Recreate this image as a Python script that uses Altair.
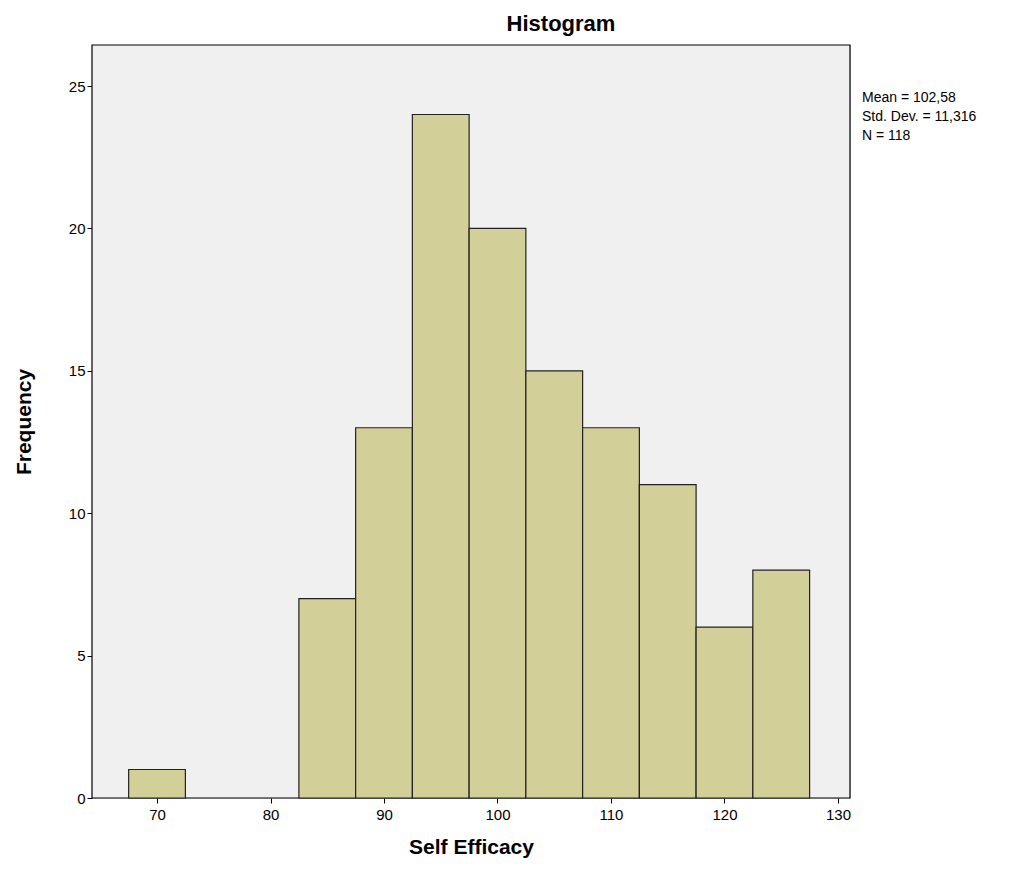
import altair as alt
import pandas as pd

bin_start = [67.5, 82.5, 87.5, 92.5, 97.5, 102.5, 107.5, 112.5, 117.5, 122.5]
bin_end = [72.5, 87.5, 92.5, 97.5, 102.5, 107.5, 112.5, 117.5, 122.5, 127.5]
counts = [1, 7, 13, 24, 20, 15, 13, 11, 6, 8]
stats = ["Mean = 102,58", "Std. Dev. = 11,316", "N = 118"]

df = pd.DataFrame({"x0": bin_start, "x1": bin_end, "n": counts, "z": [0] * len(counts)})
W, H = 758, 753
font = "Liberation Sans"

bg = alt.Chart(pd.DataFrame({"a": [0]})).mark_rect(fill="#f0f0f0", stroke="#000", strokeWidth=1.2).encode(
    x=alt.value(0), x2=alt.value(W), y=alt.value(0), y2=alt.value(H)
)

bars = alt.Chart(df).mark_bar(fill="#d3cf98", stroke="#222", strokeWidth=1.2).encode(
    x=alt.X("x0:Q", scale=alt.Scale(domain=[64.27, 131.06], nice=False, zero=False),
            axis=alt.Axis(values=[70, 80, 90, 100, 110, 120, 130], title="Self Efficacy",
                          grid=False, domain=False, tickColor="#000", labelColor="#000",
                          labelFontSize=15, labelFont=font, titleFont=font, titleFontSize=21,
                          titleFontWeight="bold", titleColor="#000", titlePadding=14, labelPadding=4)),
    x2="x1:Q",
    y=alt.Y("n:Q", scale=alt.Scale(domain=[0, 26.44], nice=False),
            axis=alt.Axis(values=[0, 5, 10, 15, 20, 25], title="Frequency", grid=False,
                          domain=False, tickColor="#000", labelColor="#000",
                          labelFontSize=15, labelFont=font, titleFont=font, titleFontSize=21,
                          titleFontWeight="bold", titleColor="#000", titlePadding=34)),
    y2="z:Q",
)

sdf = pd.DataFrame({"t": stats, "i": [0, 1, 2]})
text = alt.Chart(sdf).mark_text(align="left", baseline="middle", fontSize=14, font=font, color="#000").encode(
    x=alt.value(W + 12),
    y=alt.Y("i:Q", scale=alt.Scale(domain=[0, 2], range=[53, 91]), axis=None),
    text="t:N",
)

chart = alt.layer(bg, bars, text).resolve_scale(y="independent").properties(
    width=W, height=H,
    title=alt.TitleParams("Histogram", fontSize=22, font=font, fontWeight="bold", color="#000",
                          offset=8, dx=90),
    padding={"left": 84, "top": 37, "right": 170, "bottom": 60},
    autosize=alt.AutoSizeParams(type="none"),
).configure_view(stroke=None).configure(background="white")

chart.save("out.html", embed_options={"renderer": "svg", "actions": False})
